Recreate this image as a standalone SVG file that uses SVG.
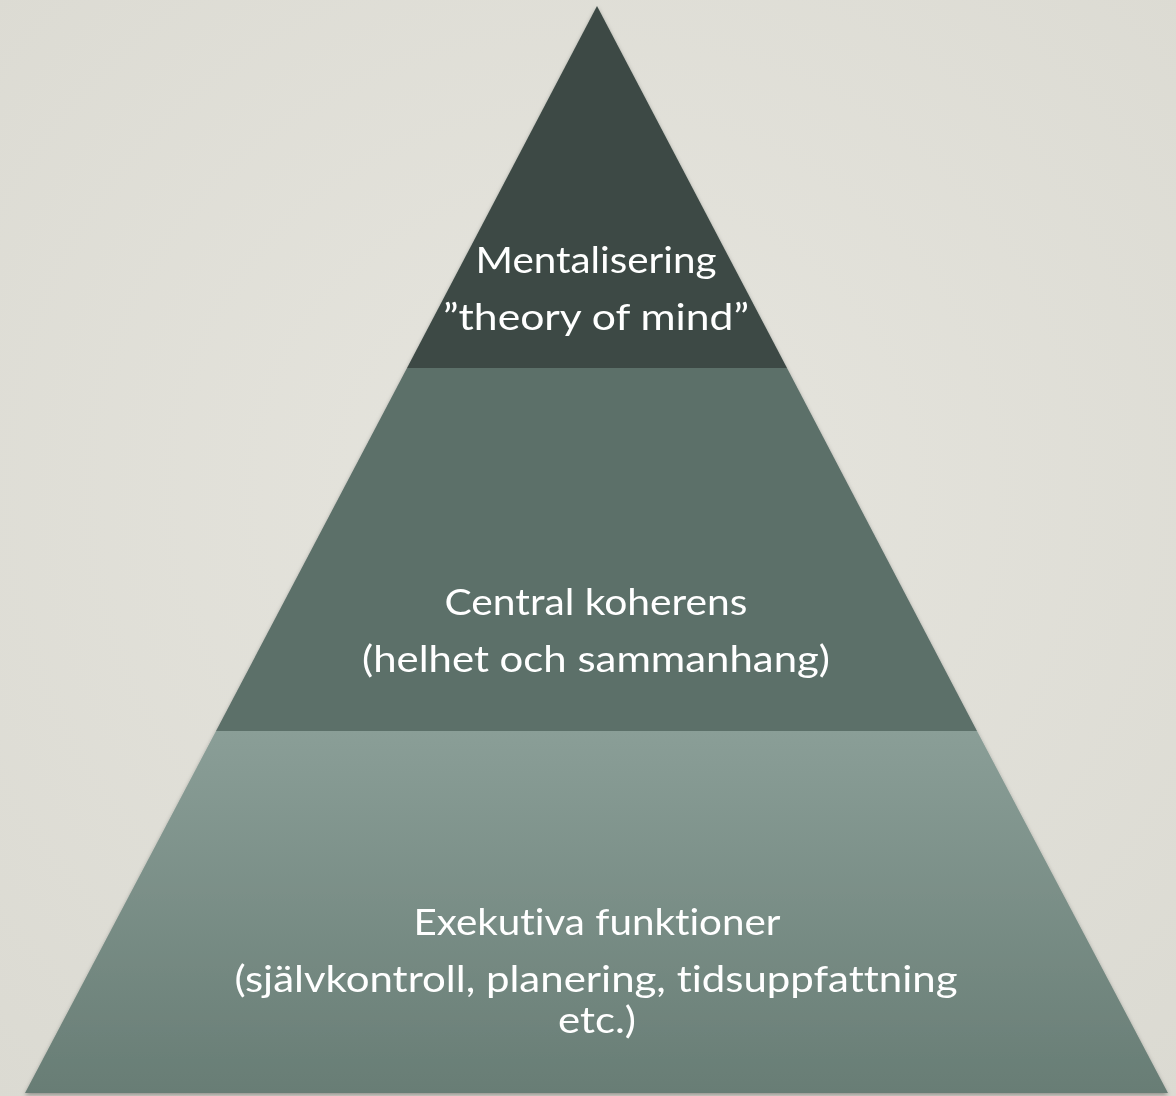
<svg xmlns="http://www.w3.org/2000/svg" width="1176" height="1096" viewBox="0 0 1176 1096">
  <defs>
    <radialGradient id="bg" cx="50%" cy="45%" r="75%">
      <stop offset="0" stop-color="#e6e5de"/>
      <stop offset="1" stop-color="#dbdad2"/>
    </radialGradient>
    <linearGradient id="base" x1="0" y1="731" x2="0" y2="1093" gradientUnits="userSpaceOnUse">
      <stop offset="0" stop-color="#8a9e97"/>
      <stop offset="1" stop-color="#687d75"/>
    </linearGradient>
    <filter id="sh" x="-5%" y="-5%" width="110%" height="110%">
      <feDropShadow dx="0" dy="2" stdDeviation="2" flood-color="#000" flood-opacity="0.35"/>
    </filter>
    <style>
      .t { font-family: Lato, "Open Sans", "Liberation Sans", sans-serif; font-size: 36px; fill: #ffffff; text-anchor: middle; font-variant-ligatures: none; }
    </style>
  </defs>
  <rect width="1176" height="1096" fill="url(#bg)"/>
  <g id="connectors"/>
  <g id="pyramid" filter="url(#sh)">
    <g id="level-bottom">
      <polygon points="216,731 977,731 1168,1093 25,1093" fill="url(#base)"/>
      <text class="t" x="597" y="935" textLength="367" lengthAdjust="spacingAndGlyphs">Exekutiva funktioner</text>
      <text class="t" x="596" y="992" textLength="723" lengthAdjust="spacingAndGlyphs">(självkontroll, planering, tidsuppfattning</text>
      <text class="t" x="597" y="1033" textLength="78" lengthAdjust="spacingAndGlyphs">etc.)</text>
    </g>
    <g id="level-middle">
      <polygon points="407,368 787,368 977,731 216,731" fill="#5b6f69"/>
      <text class="t" x="596" y="615" textLength="303" lengthAdjust="spacingAndGlyphs">Central koherens</text>
      <text class="t" x="596" y="672" textLength="468" lengthAdjust="spacingAndGlyphs">(helhet och sammanhang)</text>
    </g>
    <g id="level-top">
      <polygon points="597,6 787,368 407,368" fill="#3c4a45"/>
      <text class="t" x="596" y="273" textLength="241" lengthAdjust="spacingAndGlyphs">Mentalisering</text>
      <text class="t" x="596" y="330" textLength="306" lengthAdjust="spacingAndGlyphs">”theory of  mind”</text>
    </g>
  </g>
</svg>
